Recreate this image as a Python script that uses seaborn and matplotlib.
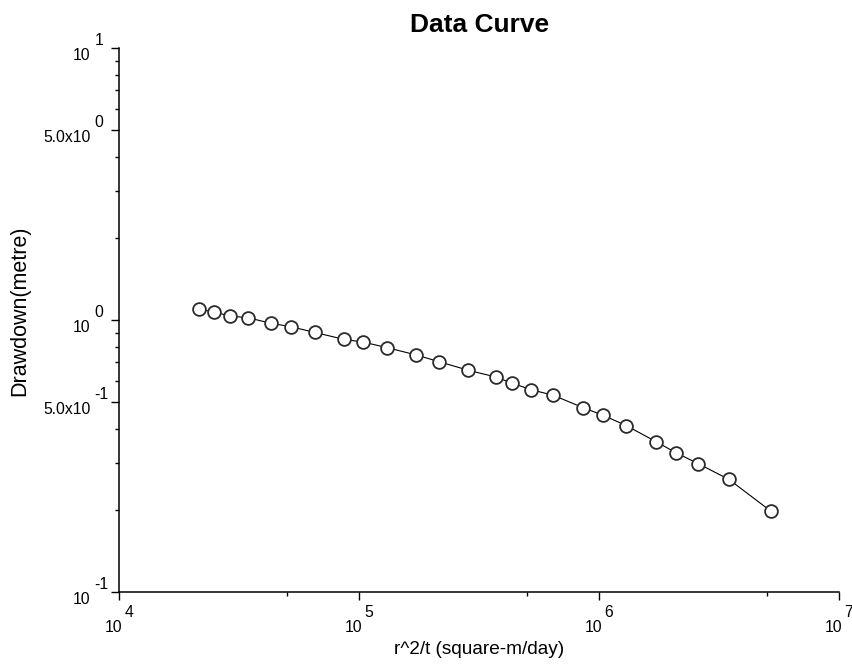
import matplotlib
matplotlib.use("Agg")
import matplotlib.pyplot as plt
import numpy as np
import pandas as pd
import seaborn as sns
from matplotlib.ticker import FixedLocator, NullFormatter

# Measured type-curve data: r^2/t versus drawdown
r2_over_t = [21480, 24810, 28910, 34380, 42870, 51920, 65380, 86300, 103600,
             130100, 172300, 215400, 284600, 370000, 431500, 519200, 643000,
             857800, 1034000, 1296000, 1722000, 2087000, 2585000, 3469000,
             5177000]
drawdown = [1.100, 1.073, 1.037, 1.022, 0.975, 0.947, 0.902, 0.851, 0.832,
            0.794, 0.746, 0.704, 0.655, 0.619, 0.588, 0.556, 0.530, 0.477,
            0.448, 0.410, 0.358, 0.326, 0.297, 0.260, 0.199]

x_major = [1e4, 1e5, 1e6, 1e7]
x_minor = [5e4, 5e5, 5e6]
x_tick_text = [("10", "4"), ("10", "5"), ("10", "6"), ("10", "7")]

y_major = [0.1, 0.5, 1.0, 5.0, 10.0]
y_minor = [m * d for d in (0.1, 1.0) for m in (2, 3, 4, 6, 7, 8, 9)]
y_tick_text = [("10", "-1"), ("5.0x10", "-1"), ("10", "0"),
               ("5.0x10", "0"), ("10", "1")]

df = pd.DataFrame({"r2t": r2_over_t, "s": drawdown})

sns.set_style("ticks")
plt.rcParams["font.family"] = ["Liberation Sans", "DejaVu Sans"]
plt.rcParams["text.color"] = "black"
plt.rcParams["axes.labelcolor"] = "black"

W, H = 853, 664
fig = plt.figure(figsize=(W / 100, H / 100), dpi=100)
ax_l, ax_r, ax_t, ax_b = 119.3, 839.3, 48.3, 592.3
ax = fig.add_axes([ax_l / W, 1 - ax_b / H, (ax_r - ax_l) / W, (ax_b - ax_t) / H])

sns.lineplot(data=df, x="r2t", y="s", ax=ax, color="black", linewidth=0.8,
             marker="o", markersize=9.2, markerfacecolor="white",
             markeredgecolor="#2b2b2b", markeredgewidth=1.3, sort=False)

ax.set_xscale("log")
ax.set_yscale("log")
ax.set_xlim(1e4, 1e7)
ax.set_ylim(0.1, 10)

ax.xaxis.set_major_locator(FixedLocator(x_major))
ax.xaxis.set_minor_locator(FixedLocator(x_minor))
ax.yaxis.set_major_locator(FixedLocator(y_major))
ax.yaxis.set_minor_locator(FixedLocator(y_minor))
for axis in (ax.xaxis, ax.yaxis):
    axis.set_major_formatter(NullFormatter())
    axis.set_minor_formatter(NullFormatter())

ax.tick_params(which="major", direction="out", length=5.8, width=1.0,
               color="black")
ax.tick_params(which="minor", direction="out", length=2.8, width=1.0,
               color="black")

sns.despine(ax=ax)
for side in ("left", "bottom"):
    ax.spines[side].set_linewidth(1.1)
    ax.spines[side].set_color("black")

tick_fs = 11.3
# Power-of-ten labels: mantissa and exponent drawn at the same size
for v, (base, ex) in zip(x_major, x_tick_text):
    ax.annotate(base, xy=(v, 0), xycoords=("data", "axes fraction"),
                xytext=(3.5, -39.7), textcoords="offset pixels",
                ha="right", va="baseline", fontsize=tick_fs, color="black")
    ax.annotate(ex, xy=(v, 0), xycoords=("data", "axes fraction"),
                xytext=(5, -24.7), textcoords="offset pixels",
                ha="left", va="baseline", fontsize=tick_fs, color="black")

for v, (base, ex) in zip(y_major, y_tick_text):
    ax.annotate(base, xy=(0, v), xycoords=("axes fraction", "data"),
                xytext=(-28.7, -11.5), textcoords="offset pixels",
                ha="right", va="baseline", fontsize=tick_fs, color="black")
    ax.annotate(ex, xy=(0, v), xycoords=("axes fraction", "data"),
                xytext=(-25, 3.5), textcoords="offset pixels",
                ha="left", va="baseline", fontsize=tick_fs, color="black")

ax.set_title("Data Curve", fontsize=19, fontweight="bold", pad=11.5,
             color="black")

ax.set_xlabel("r^2/t (square-m/day)", fontsize=13.7, va="baseline")
ax.xaxis.set_label_coords(0.5, (ax_b - 654) / (ax_b - ax_t))
ax.set_ylabel("Drawdown(metre)", fontsize=15.5, va="center", ha="center")
ax.yaxis.set_label_coords((20 - ax_l) / (ax_r - ax_l),
                          (ax_b - 310.5) / (ax_b - ax_t))

fig.savefig("out.png", dpi=100)
